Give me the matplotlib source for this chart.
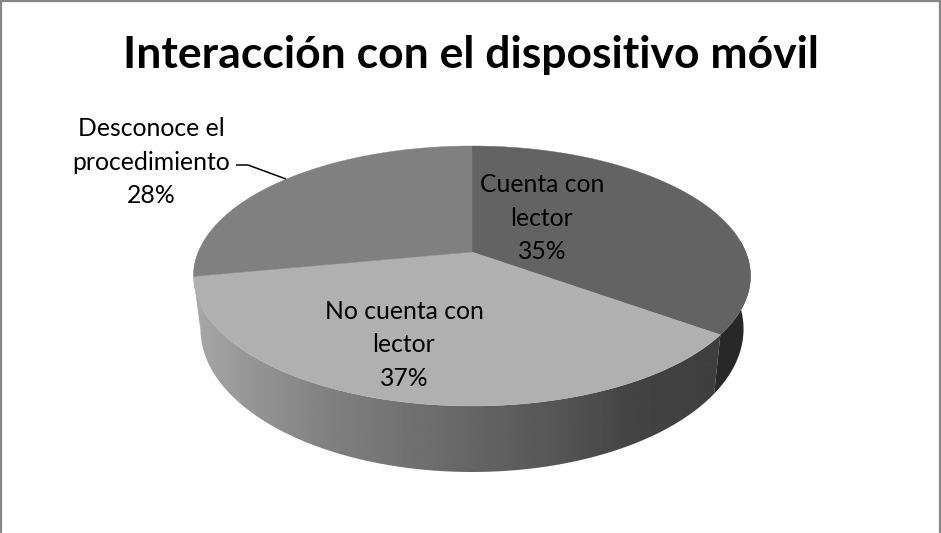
import numpy as np
import matplotlib
matplotlib.use("Agg")
import matplotlib.pyplot as plt
from matplotlib.patches import Polygon

title = "Interacción con el dispositivo móvil"
categories = ["Cuenta con\nlector", "No cuenta con\nlector", "Desconoce el\nprocedimiento"]
shares = [35, 37, 28]
face_colors = ["#636363", "#b0b0b0", "#808080"]
wall_colors = ["#282828", None, "#a8a8a8"]

plt.rcParams["font.family"] = ["Lato", "DejaVu Sans"]

fig = plt.figure(figsize=(9.41, 5.33), dpi=100, facecolor="white")
ax = fig.add_axes([0, 0, 1, 1])
ax.axis("off")


def rim(theta):
    """Project clockwise-from-north angles onto the tilted upper rim of the disc."""
    u, v = np.sin(theta), np.cos(theta)
    w = 1 + 0.1846 * v
    return 472 + 273.7 * u / w, (252 - 79.05 * v) / w


def lower_rim(theta):
    """Same angles on the lower edge of the disc, seen further down."""
    x, y = rim(theta)
    return 472 + (x - 472) * 0.975, 252 + (y - 252) * 1.10 + 50.6


def wall(start, stop):
    t = np.linspace(start, stop, 200)
    xt, yt = rim(t)
    xb, yb = lower_rim(t)
    return np.column_stack([np.r_[xt, xb[::-1]], np.r_[yt, yb[::-1]]])


edges = np.radians(np.cumsum([0] + shares) / sum(shares) * 360)

# Side walls: a flat dark piece on the right, a flat one on the far left,
# and a shaded band along the front.
ax.add_patch(Polygon(wall(np.radians(85), edges[1]), closed=True, fc=wall_colors[0], ec="none"))
ax.add_patch(Polygon(wall(edges[2], np.radians(272)), closed=True, fc=wall_colors[2], ec="none"))

shade_x = [193, 250, 330, 400, 480, 560, 630, 725]
shade_v = [168, 150, 128, 115, 100, 85, 68, 62]
xs = np.arange(190, 730)
band = np.interp(xs, shade_x, shade_v)[np.newaxis, :]
front = Polygon(wall(edges[1], edges[2]), closed=True, transform=ax.transData, fc="none", ec="none")
ax.add_patch(front)
img = ax.imshow(band, extent=(190, 730, 480, 250), cmap="gray", vmin=0, vmax=255,
                aspect="auto", interpolation="bilinear")
img.set_clip_path(front)

# Top faces of the three slices.
for a, b, color in zip(edges[:-1], edges[1:], face_colors):
    t = np.linspace(a, b, 300)
    x, y = rim(t)
    pts = np.column_stack([np.r_[472, x], np.r_[252, y]])
    ax.add_patch(Polygon(pts, closed=True, fc=color, ec=color, lw=0.3))

ax.set_xlim(0, 941)
ax.set_ylim(533, 0)

ax.text(471, 68, title, ha="center", va="baseline", fontsize=32, fontweight="bold", color="black")

label_spots = [(542, 218), (404, 345), (151, 162)]
for name, share, (lx, ly) in zip(categories, shares, label_spots):
    ax.text(lx, ly, f"{name}\n{share}%", ha="center", va="center", fontsize=17.8,
            color="black", linespacing=1.55, multialignment="center")

# Leader line for the outside label.
ax.plot([236, 248, 286], [165, 165, 179], color="black", lw=1.1, solid_capstyle="butt")

# Chart frame.
ax.plot([1, 1], [0, 533], color="#868686", lw=1.6, clip_on=False)
ax.plot([0, 941], [1, 1], color="#868686", lw=1.6, clip_on=False)
ax.plot([940, 940], [0, 533], color="#868686", lw=1.6, clip_on=False)
ax.plot([0, 941], [532.5, 532.5], color="#e4e4e4", lw=1, clip_on=False)

fig.savefig("out.png", dpi=100, facecolor="white")
